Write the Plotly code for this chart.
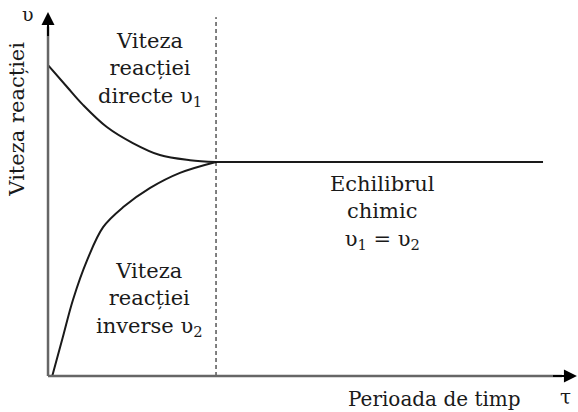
import plotly.graph_objects as go

# time (arbitrary units) and reaction rates
t_direct = [0.00, 0.36, 0.66, 1.11, 1.60, 2.11, 2.68, 3.17]
v_direct = [8.54, 7.94, 7.45, 6.84, 6.40, 6.07, 5.93, 5.88]

t_inverse = [0.08, 0.28, 0.47, 0.74, 1.04, 1.42, 1.92, 2.49, 3.17]
v_inverse = [0.00, 1.07, 2.09, 3.19, 4.09, 4.64, 5.16, 5.58, 5.88]

t_equil = [3.17, 9.34]
v_equil = [5.88, 5.88]

t_eq_mark = 3.17
dash_top = 9.86

FONT = "DejaVu Serif, Liberation Serif, serif"
ink = "#1a1a1a"
axis_col = "#666666"

fig = go.Figure()

fig.add_trace(go.Scatter(x=t_direct, y=v_direct, mode='lines', line_shape='spline',
                         line=dict(color=ink, width=2)))
fig.add_trace(go.Scatter(x=t_inverse, y=v_inverse, mode='lines', line_shape='spline',
                         line=dict(color=ink, width=2)))
fig.add_trace(go.Scatter(x=t_equil, y=v_equil, mode='lines',
                         line=dict(color=ink, width=2)))
fig.add_trace(go.Scatter(x=[t_eq_mark, t_eq_mark], y=[0, dash_top], mode='lines',
                         line=dict(color='black', width=1, dash='4px,3px')))

# axes with arrows
fig.add_shape(type='line', x0=0, y0=0, x1=9.7, y1=0, line=dict(color=axis_col, width=2.5))
fig.add_shape(type='line', x0=0, y0=0, x1=0, y1=9.6, line=dict(color=axis_col, width=2.5))
fig.add_annotation(x=9.98, y=0, ax=9.5, ay=0, xref='x', yref='y', axref='x', ayref='y',
                   text='', showarrow=True, arrowhead=2, arrowsize=1.3, arrowwidth=2, arrowcolor='black')
fig.add_annotation(x=0, y=10.0, ax=0, ay=9.3, xref='x', yref='y', axref='x', ayref='y',
                   text='', showarrow=True, arrowhead=2, arrowsize=1.3, arrowwidth=2, arrowcolor='black')

def label(x, y, text, size=21, angle=0):
    fig.add_annotation(x=x, y=y, xref='x', yref='y', text=text, showarrow=False,
                       textangle=angle, align='center',
                       font=dict(family=FONT, size=size, color=ink))

label(1.92, 8.42, 'Viteza<br>reacției<br>directe υ<sub>1</sub>')
label(1.92, 2.1, 'Viteza<br>reacției<br>inverse υ<sub>2</sub>')
label(6.32, 4.5, 'Echilibrul<br>chimic<br>υ<sub>1</sub> = υ<sub>2</sub>')
label(-0.58, 7.05, 'Viteza reacției', angle=-90)
label(-0.38, 9.95, 'υ', size=19)
label(7.3, -0.64, 'Perioada de timp', size=20)
label(9.77, -0.58, 'τ', size=20)

fig.update_layout(
    width=578, height=412,
    margin=dict(l=0, r=0, t=0, b=0),
    plot_bgcolor='white', paper_bgcolor='white',
    showlegend=False,
    xaxis=dict(range=[-0.906, 10.0], visible=False, fixedrange=True),
    yaxis=dict(range=[-0.989, 10.33], visible=False, fixedrange=True),
)

fig.write_html("out.html", config={'displayModeBar': False},
               post_script="document.body.style.margin='0px';")
